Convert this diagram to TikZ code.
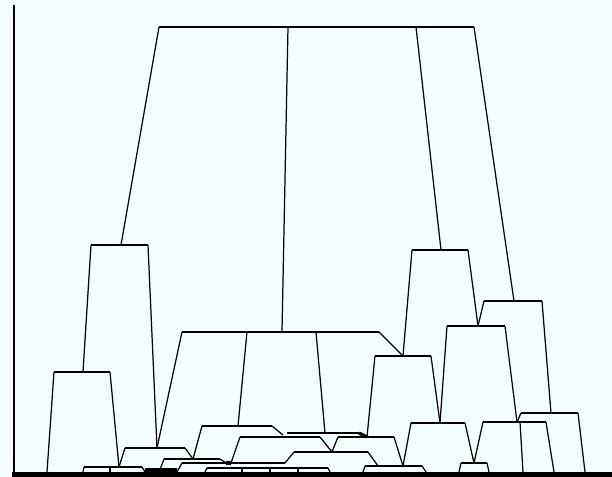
\documentclass[tikz,border=0pt]{standalone}
\usetikzlibrary{calc}
\definecolor{paper}{RGB}{243,253,253}

\begin{document}
\begin{tikzpicture}[
        x=0.2mm, y=-0.2mm,
        bar/.style = {draw=black, line width=1.3pt},
        leg/.style = {draw=black, line width=0.7pt},
        axis/.style = {draw=black, line width=1.7pt},
        floor/.style = {draw=black, line width=2.9pt},
        clutter/.style = {draw=black, line width=1.8pt}
    ]
        % Background
        \fill[paper] (0,0) rectangle (612,477);
        \useasboundingbox (0,0) rectangle (612,477);

        % Axes
        \coordinate (ytop) at (14,5);
        \coordinate (org) at (14,474.5);
        \coordinate (xend) at (612,474.5);
        \draw[axis] (ytop) -- (org);
        \draw[floor] ($(org)+(-1.5,0)$) -- (xend);

        % Leaves on the floor
        \foreach \name/\x in {lb1/47, lq1/83, lq3/110, lq2/145, lr1/159, ly1/177,
                lz1/205, lz2/242, lz3/270, lz4/298, lz5/330,
                lp1/363, lp2/426, ln1/459, ln2/489, ll3/523, ll2/554, lj2/585}
            \coordinate (\name) at (\x,472);

        % Top: root bar
        \coordinate (t1) at (159,27);
        \coordinate (t2) at (288,27);
        \coordinate (t3) at (416,27);
        \coordinate (t4) at (474,27);

        % Left group
        \coordinate (a1) at (91,245);  \coordinate (a0) at (121,245); \coordinate (a2) at (148,245);
        \coordinate (b1) at (54,372);  \coordinate (b0) at (83,372);  \coordinate (b2) at (110,372);
        \coordinate (c1) at (125,448); \coordinate (c0) at (157,448); \coordinate (c2) at (185,448);
        \coordinate (q1) at (84,467);  \coordinate (q3) at (110,467);
        \coordinate (q0) at (119,467); \coordinate (q2) at (142,467);

        % Middle group
        \coordinate (d1) at (182,332); \coordinate (d2) at (247,332); \coordinate (d0) at (282,332);
        \coordinate (d3) at (316,332); \coordinate (d4) at (379,332);
        \coordinate (f1) at (202,426); \coordinate (f0) at (238,426); \coordinate (f2) at (272,426);
        \coordinate (f3) at (283,435);
        \coordinate (r1) at (164,459); \coordinate (r0) at (193,459); \coordinate (r2) at (220,459);
        \coordinate (r3) at (226,463);
        \coordinate (u1) at (287,433); \coordinate (u0) at (325,433); \coordinate (u2) at (359,433);
        \coordinate (v1) at (240,437); \coordinate (v2) at (320,437);
        \coordinate (w1) at (338,437); \coordinate (w0) at (367,437); \coordinate (w2) at (394,437);
        \coordinate (x1) at (294,452); \coordinate (x0) at (332,452); \coordinate (x2) at (368,452);
        \coordinate (y1) at (182,463); \coordinate (y0) at (231,463); \coordinate (y2) at (285,463);
        \coordinate (z1) at (207,468); \coordinate (z2) at (328,468);
        \coordinate (p1) at (365,466); \coordinate (p3) at (378,466);
        \coordinate (p0) at (403,466); \coordinate (p2) at (422,466);

        % Right group
        \coordinate (g1) at (412,250); \coordinate (g0) at (441,250); \coordinate (g2) at (468,250);
        \coordinate (e1) at (375,356); \coordinate (e0) at (403,356); \coordinate (e2) at (431,356);
        \coordinate (h1) at (484,301); \coordinate (h0) at (514,301); \coordinate (h2) at (542,301);
        \coordinate (i1) at (447,326); \coordinate (i0) at (478,326); \coordinate (i2) at (505,326);
        \coordinate (k1) at (411,423); \coordinate (k0) at (440,423); \coordinate (k2) at (465,423);
        \coordinate (l1) at (483,422); \coordinate (l0) at (517,422);
        \coordinate (l3) at (520,422); \coordinate (l2) at (546,422);
        \coordinate (j1) at (521,413); \coordinate (j0) at (551,413); \coordinate (j2) at (578,413);
        \coordinate (n1) at (461,463); \coordinate (n0) at (474,463); \coordinate (n2) at (487,463);

        % Bars
        \foreach \u/\v in {t1/t4, a1/a2, b1/b2, c1/c2, q1/q2, d1/d4, f1/f2, r1/r2,
                u1/u2, v1/v2, w1/w2, x1/x2, y1/y2, z1/z2, p1/p2,
                g1/g2, e1/e2, h1/h2, i1/i2, k1/k2, l1/l2, j1/j2, n1/n2}
            \draw[bar] (\u) -- (\v);

        % Legs
        \foreach \u/\v in {t1/a0, t2/d0, t3/g0, t4/h0,
                a1/b0, a2/c0, b1/lb1, b2/q0, c1/q0, c2/r0,
                q1/lq1, q3/lq3, q2/lq2,
                d1/c0, d2/f0, d3/u0, d4/e0,
                f1/r0, f2/f3, r1/lr1, r2/r3, u2/w0,
                v1/y0, v2/x0, w1/x0, w2/p0, x1/y2, x2/p3, y1/ly1,
                z1/lz1, z2/lz5, p1/lp1, p2/lp2,
                g1/e0, g2/i0, h1/i0, h2/j0,
                e1/w0, e2/k0, i1/k0, i2/l0, j1/l0,
                k1/p0, k2/n0, l1/n0, l3/ll3, l2/ll2, j2/lj2,
                n1/ln1, n2/ln2}
            \draw[leg] (\u) -- (\v);

        % Short drops under the small bottom bar
        \foreach \x in {242,270,298}
            \draw[leg] (\x,468) -- (\x,472);

        % Dense bits near the floor
        \draw[clutter] (lq2 |- 0,470) -- (ly1 |- 0,470);
        \draw[clutter] (r3) -- (y0);
        \draw[clutter] (u2) -- (w0);
\end{tikzpicture}
\end{document}
